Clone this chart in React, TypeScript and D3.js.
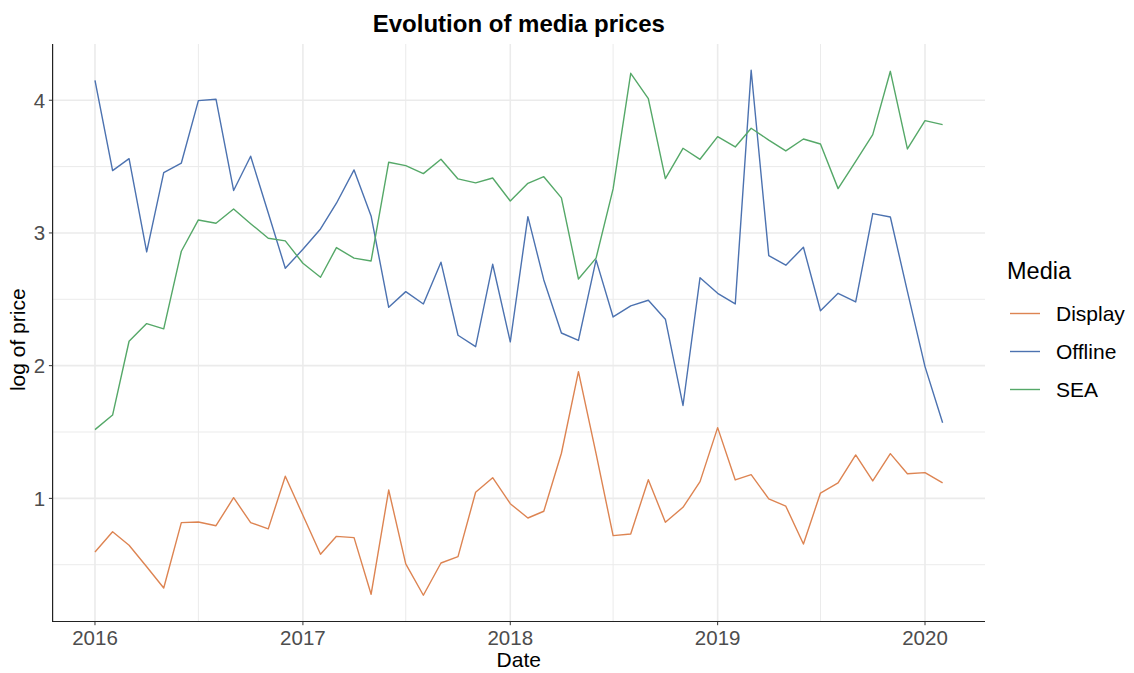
import React from "react";
import * as d3 from "d3";

const months: string[] = [
  "2016-01","2016-02","2016-03","2016-04","2016-05","2016-06","2016-07","2016-08","2016-09","2016-10","2016-11","2016-12",
  "2017-01","2017-02","2017-03","2017-04","2017-05","2017-06","2017-07","2017-08","2017-09","2017-10","2017-11","2017-12",
  "2018-01","2018-02","2018-03","2018-04","2018-05","2018-06","2018-07","2018-08","2018-09","2018-10","2018-11","2018-12",
  "2019-01","2019-02","2019-03","2019-04","2019-05","2019-06","2019-07","2019-08","2019-09","2019-10","2019-11","2019-12",
  "2020-01","2020-02",
];

const displayValues: number[] = [
  0.596, 0.749, 0.647, 0.485, 0.325, 0.817, 0.822, 0.794, 1.005, 0.817, 0.77, 1.167,
  0.873, 0.579, 0.714, 0.704, 0.277, 1.063, 0.506, 0.27, 0.513, 0.561, 1.046, 1.156,
  0.96, 0.852, 0.903, 1.34, 1.955, 1.337, 0.719, 0.732, 1.141, 0.82, 0.933, 1.126,
  1.533, 1.139, 1.179, 0.996, 0.941, 0.656, 1.04, 1.116, 1.327, 1.131, 1.337, 1.186,
  1.194, 1.116,
];

const offlineValues: number[] = [
  4.15, 3.47, 3.56, 2.857, 3.455, 3.527, 3.997, 4.008, 3.32, 3.578, 3.15, 2.734,
  2.877, 3.03, 3.224, 3.475, 3.128, 2.44, 2.558, 2.465, 2.78, 2.229, 2.143, 2.764,
  2.179, 3.123, 2.646, 2.246, 2.19, 2.797, 2.367, 2.45, 2.493, 2.35, 1.70, 2.663,
  2.545, 2.465, 4.226, 2.829, 2.757, 2.892, 2.414, 2.545, 2.48, 3.146, 3.12, 2.56,
  1.993, 1.57,
];

const seaValues: number[] = [
  1.518, 1.628, 2.184, 2.317, 2.277, 2.862, 3.098, 3.073, 3.181, 3.07, 2.96, 2.94,
  2.772, 2.666, 2.89, 2.81, 2.789, 3.533, 3.507, 3.447, 3.555, 3.407, 3.377, 3.414,
  3.241, 3.374, 3.424, 3.264, 2.653, 2.81, 3.332, 4.203, 4.012, 3.41, 3.638, 3.555,
  3.726, 3.648, 3.789, 3.70, 3.618, 3.708, 3.67, 3.334, 3.54, 3.741, 4.218, 3.633,
  3.846, 3.816,
];

const seriesNames: string[] = ["Display", "Offline", "SEA"];
const seriesColors: string[] = ["#DD8452", "#4C72B0", "#55A868"];
const yTicks: number[] = [1, 2, 3, 4];
const yMinor: number[] = [0.5, 1.5, 2.5, 3.5];
const xTickYears: number[] = [2016, 2017, 2018, 2019, 2020];

const W = 1134;
const H = 673;
const FONT = "'Liberation Sans', Arial, Helvetica, sans-serif";

export default function App() {
  const parse = d3.timeParse("%Y-%m");
  const dates = months.map((m) => parse(m) as Date);
  const allSeries = [displayValues, offlineValues, seaValues];

  const left = 52.6, right = 985, top = 44, bottom = 621.5;

  const t0 = +dates[0], t1 = +dates[dates.length - 1];
  const tpad = (t1 - t0) * 0.05;
  const x = d3.scaleTime().domain([new Date(t0 - tpad), new Date(t1 + tpad)]).range([left, right]);

  const allVals = allSeries.flat();
  const vmin = d3.min(allVals) as number, vmax = d3.max(allVals) as number;
  const vpad = (vmax - vmin) * 0.05;
  const y = d3.scaleLinear().domain([vmin - vpad, vmax + vpad]).range([bottom, top]);

  const line = d3.line<number>()
    .x((_, i) => x(dates[i]))
    .y((v) => y(v));

  const xMajor = xTickYears.map((yr) => new Date(yr, 0, 1));
  const xMinor = xTickYears.slice(0, -1).map((yr) => new Date(yr, 6, 1)).filter((d) => x(d) <= right);

  const grid = "#ebebeb";

  return (
    <svg width={W} height={H} style={{ position: "absolute", left: 0, top: 0, background: "#fff" }} fontFamily={FONT}>
      {yMinor.map((v) => (
        <line key={"ym" + v} x1={left} x2={right} y1={y(v)} y2={y(v)} stroke={grid} strokeWidth={1} />
      ))}
      {xMinor.map((d, i) => (
        <line key={"xm" + i} x1={x(d)} x2={x(d)} y1={top} y2={bottom} stroke={grid} strokeWidth={1} />
      ))}
      {yTicks.map((v) => (
        <line key={"yg" + v} x1={left} x2={right} y1={y(v)} y2={y(v)} stroke={grid} strokeWidth={1.6} />
      ))}
      {xMajor.map((d, i) => (
        <line key={"xg" + i} x1={x(d)} x2={x(d)} y1={top} y2={bottom} stroke={grid} strokeWidth={1.6} />
      ))}

      {allSeries.map((vals, i) => (
        <path key={seriesNames[i]} d={line(vals) || ""} fill="none" stroke={seriesColors[i]} strokeWidth={1.4} strokeLinejoin="round" />
      ))}

      <line x1={left} x2={left} y1={top} y2={bottom + 0.5} stroke="#222" strokeWidth={1.2} />
      <line x1={left} x2={right} y1={bottom} y2={bottom} stroke="#222" strokeWidth={1.2} />
      {yTicks.map((v) => (
        <g key={"yt" + v}>
          <line x1={left - 3.7} x2={left} y1={y(v)} y2={y(v)} stroke="#333" strokeWidth={1} />
          <text x={left - 7.5} y={y(v)} dy="0.36em" textAnchor="end" fontSize={20.5} fill="#4d4d4d">{v}</text>
        </g>
      ))}
      {xMajor.map((d, i) => (
        <g key={"xt" + i}>
          <line x1={x(d)} x2={x(d)} y1={bottom} y2={bottom + 3.7} stroke="#333" strokeWidth={1} />
          <text x={x(d)} y={bottom + 23} textAnchor="middle" fontSize={20.5} fill="#4d4d4d">{d3.timeFormat("%Y")(d)}</text>
        </g>
      ))}

      <text x={(left + right) / 2} y={667} textAnchor="middle" fontSize={21} fill="#000">Date</text>
      <text transform={`translate(25,${(top + bottom) / 2 + 7}) rotate(-90)`} textAnchor="middle" fontSize={21} fill="#000">log of price</text>

      <text x={(left + right) / 2} y={32} textAnchor="middle" fontSize={24} fontWeight="bold" fill="#000">Evolution of media prices</text>

      <text x={1007} y={279} fontSize={23.5} fill="#000">Media</text>
      {seriesNames.map((n, i) => {
        const ly = 313.5 + i * 38;
        return (
          <g key={"lg" + n}>
            <line x1={1010} x2={1040} y1={ly} y2={ly} stroke={seriesColors[i]} strokeWidth={1.4} />
            <text x={1056} y={ly} dy="0.36em" fontSize={21} fill="#000">{n}</text>
          </g>
        );
      })}
    </svg>
  );
}
